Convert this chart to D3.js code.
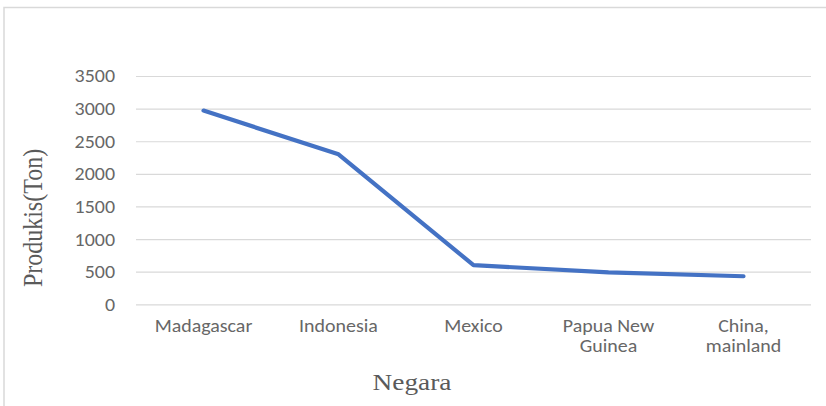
<!DOCTYPE html>
<html><head><meta charset="utf-8">
<script src="https://cdn.jsdelivr.net/npm/d3@7"></script>
<style>body{margin:0;background:#fff}svg{display:block}</style>
</head><body>
<script>
const categories = ["Madagascar","Indonesia","Mexico","Papua New Guinea","China, mainland"];
const categoryLines = [["Madagascar"],["Indonesia"],["Mexico"],["Papua New","Guinea"],["China,","mainland"]];
const values = [2970, 2300, 600, 490, 430];
const yTicks = [0,500,1000,1500,2000,2500,3000,3500];

(function(){
const W = 826, H = 406;
const SX = 1.14; // horizontal stretch of text in the reference
const sansFont = "Carlito, Calibri, Lato, 'Open Sans', sans-serif";
const serifFont = "'Liberation Serif', 'Times New Roman', 'DejaVu Serif', serif";
const svg = d3.select("body").append("svg").attr("width", W).attr("height", H);
svg.append("rect").attr("x",4).attr("y",7.5).attr("width",W+10).attr("height",H+10)
  .attr("fill","#fff").attr("stroke","#d9d9d9").attr("stroke-width",1.5);

const mLeft = 136, mRight = 811, mTop = 76, mBottom = 304.3;
const x = d3.scaleBand().domain(categories).range([mLeft, mRight]);
const y = d3.scaleLinear().domain([0,3500]).range([mBottom, mTop]);

const yAxis = d3.axisLeft(y).tickValues(yTicks).tickFormat(d3.format("d")).tickSize(-(mRight-mLeft)).tickPadding(0);
const gy = svg.append("g").attr("transform",`translate(${mLeft},0)`).call(yAxis);
gy.select(".domain").remove();
gy.selectAll(".tick line").attr("stroke","#d9d9d9").attr("stroke-width",1.2);
gy.selectAll(".tick text").attr("fill","#676767").attr("font-family",sansFont)
  .attr("font-size",17.5).attr("x", -21/SX).attr("dy","0.34em")
  .attr("transform",`scale(${SX},1)`);

const xAxis = d3.axisBottom(x).tickSize(0).tickFormat("");
const gx = svg.append("g").attr("transform",`translate(0,${mBottom})`).call(xAxis);
gx.select(".domain").remove();
gx.selectAll(".tick").each(function(d,i){
  const t = d3.select(this).append("text").attr("fill","#676767")
    .attr("font-family",sansFont).attr("font-size",17.5)
    .attr("text-anchor","middle").attr("transform",`scale(${SX},1)`);
  categoryLines[i].forEach((ln,j)=>{
    t.append("tspan").attr("x",0).attr("y",27.3 + j*20.5).text(ln);
  });
});

const line = d3.line().x((d,i)=>x(categories[i]) + x.bandwidth()/2).y(d=>y(d));
svg.append("path").datum(values).attr("d",line).attr("fill","none")
  .attr("stroke","#4472C4").attr("stroke-width",4.2).attr("stroke-linejoin","round").attr("stroke-linecap","round");

svg.append("text").attr("transform",`translate(42,218) scale(${SX},1) rotate(-90)`).attr("text-anchor","middle")
  .attr("font-family",serifFont).attr("font-size",24).attr("fill","#5a5a5a")
  .text("Produkis(Ton)");
svg.append("text").attr("transform",`translate(412,389.5) scale(${SX},1)`).attr("text-anchor","middle")
  .attr("font-family",serifFont).attr("font-size",24).attr("fill","#5a5a5a")
  .text("Negara");
})();
</script>
</body></html>
